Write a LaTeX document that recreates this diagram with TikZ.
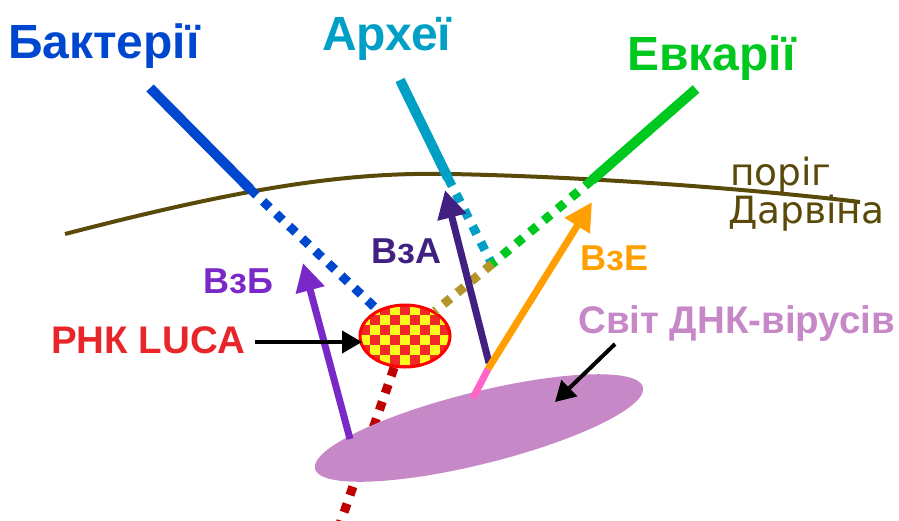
\documentclass[tikz,border=0pt]{standalone}
\usepackage{fontspec}
\setmainfont{Liberation Sans}
\newfontfamily\djv{DejaVu Sans}
\usepackage{tikz}
\usetikzlibrary{shapes.geometric, positioning, arrows.meta, calc}
\definecolor{bactcolor}{RGB}{0, 71, 207}
\definecolor{archcolor}{RGB}{0, 160, 198}
\definecolor{eukcolor}{RGB}{0, 200, 30}
\definecolor{darwincolor}{RGB}{90, 74, 10}
\definecolor{forkcolor}{RGB}{180, 150, 40}
\definecolor{rootcolor}{RGB}{192, 0, 0}
\definecolor{lucared}{RGB}{240, 40, 40}
\definecolor{lucayellow}{RGB}{255, 250, 30}
\definecolor{vzbcolor}{RGB}{123, 40, 200}
\definecolor{vzacolor}{RGB}{64, 32, 128}
\definecolor{vzecolor}{RGB}{255, 160, 0}
\definecolor{pinkcolor}{RGB}{255, 100, 200}
\definecolor{viruscolor}{RGB}{198, 136, 198}
\definecolor{labelred}{RGB}{232, 38, 42}

\begin{document}
\begin{tikzpicture}[
			x=1pt, y=-1pt,
			lineage/.style={line width=10pt},
			dotline/.style={line width=9pt, dash pattern=on 9pt off 9pt},
			hgt/.style={-{Triangle[length=28pt, width=28pt]}, line width=7pt},
			pointer/.style={-{Triangle[length=20pt, width=22pt]}, line width=4pt, black},
			domainname/.style={anchor=base west, inner sep=0pt, font=\fontsize{48}{50}\selectfont\bfseries},
			labeltext/.style={anchor=base west, inner sep=0pt, font=\fontsize{36}{40}\selectfont\bfseries},
			bigtext/.style={anchor=base west, inner sep=0pt, font=\fontsize{38.5}{40}\selectfont\bfseries}
			]
			
			\useasboundingbox (0,0) rectangle (899,520);
			
			% domain names
			\node[domainname, text=bactcolor] (bactname) at (8,58) {Бактерії};
			\node[domainname, text=archcolor] (archname) at (322,50) {Археї};
			\node[domainname, text=eukcolor] (eukname) at (627,70) {Евкарії};
			
			% ends of the branches
			\coordinate (bact) at (150,88);
			\coordinate (bactcut) at (250,189);
			\coordinate (arch) at (400,80);
			\coordinate (archcut) at (448,178);
			\coordinate (euk) at (696,89);
			\coordinate (eukcut) at (592,180);
			\coordinate (fork) at (492,264);
			\coordinate (rootend) at (340,524);
			
			% LUCA
			\node[ellipse, minimum width=90pt, minimum height=62pt, inner sep=0pt,
				fill=lucayellow, draw=red, line width=3pt,
				path picture={
					\foreach \i in {0,...,9}
					\foreach \j in {0,...,6} {
						\pgfmathparse{int(mod(\i+\j,2))}
						\ifnum\pgfmathresult=0
						\fill[lucared] ($(path picture bounding box.north west)+(\i*10,\j*10)$) rectangle +(10,10);
						\fi
					}
				}] (luca) at (405,336) {};
			
			% root below LUCA
			\draw[dotline, rootcolor] (luca) -- (rootend);
			
			% world of DNA viruses
			\node[ellipse, fill=viruscolor, minimum width=338pt, minimum height=72pt,
				inner sep=0pt, rotate=14] (virus) at (479,428) {};
			
			% Darwin threshold
			\draw[line width=4pt, darwincolor]
			(65,234) .. controls (250,186) and (350,172) .. (450,174)
			.. controls (600,177) and (760,190) .. (860,202);
			\node[anchor=base west, inner sep=0pt, text=darwincolor,
				font=\djv\fontsize{37.5}{38}\selectfont] (darwin) at (730,185) {поріг};
			\node[anchor=base west, inner sep=0pt, text=darwincolor,
				font=\djv\fontsize{37.5}{38}\selectfont] (darwin2) at (728,223) {Дарвіна};
			
			% branches
			\draw[lineage, bactcolor] (bact) -- (bactcut);
			\draw[dotline, bactcolor] (bactcut) -- (luca);
			\draw[lineage, archcolor] (arch) -- (archcut);
			\draw[dotline, archcolor] (archcut) -- (fork);
			\draw[lineage, eukcolor] (euk) -- (eukcut);
			\draw[dotline, eukcolor] (eukcut) -- (fork);
			\draw[dotline, forkcolor] (fork) -- (luca);
			
			% gene transfers from viruses
			\coordinate (vzbfrom) at (350,439);
			\coordinate (vzbto) at (303,263);
			\coordinate (vzafrom) at (489,363);
			\coordinate (vzato) at (445,190);
			\coordinate (vzefrom) at (473,398);
			\coordinate (vzemid) at (488,369);
			\coordinate (vzeto) at (592,202);
			
			\draw[hgt, vzbcolor] (vzbfrom) -- (vzbto);
			\draw[hgt, vzacolor] (vzafrom) -- (vzato);
			\draw[line width=7pt, pinkcolor] (vzefrom) -- (vzemid);
			\draw[hgt, vzecolor] (vzemid) -- (vzeto);
			
			\node[labeltext, text=vzbcolor] (vzb) at (203,293) {ВзБ};
			\node[labeltext, text=vzacolor] (vza) at (371,263) {ВзА};
			\node[labeltext, text=vzecolor] (vze) at (580,270) {ВзЕ};
			
			% pointers
			\node[bigtext, text=labelred] (rnk) at (51,353) {РНК LUCA};
			\coordinate (rnkstart) at (255,342);
			\coordinate (rnkend) at (362,342);
			\draw[pointer] (rnkstart) -- (rnkend);
			
			\node[bigtext, text=viruscolor] (dnk) at (578,333) {Світ ДНК-вірусів};
			\coordinate (dnkstart) at (615,344);
			\coordinate (dnkend) at (555,402);
			\draw[pointer] (dnkstart) -- (dnkend);
			
		\end{tikzpicture}
\end{document}
